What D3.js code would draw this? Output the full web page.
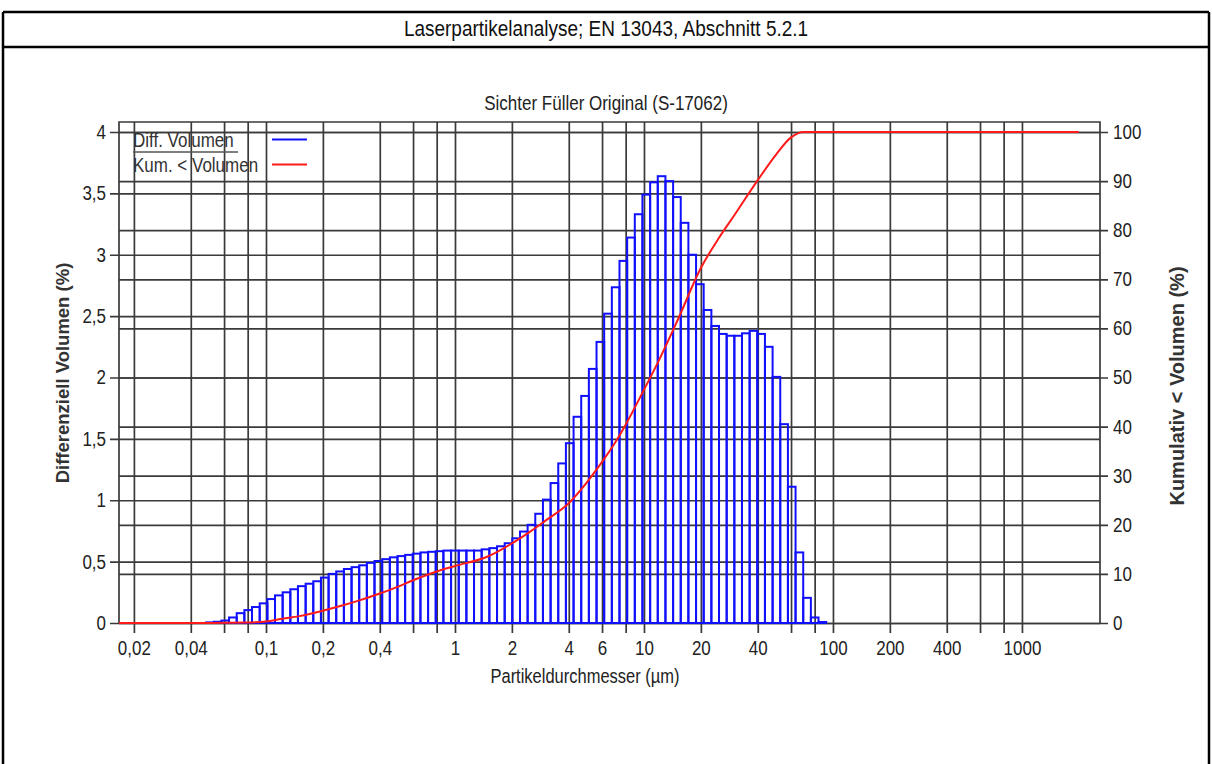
<!DOCTYPE html>
<html>
<head>
<meta charset="utf-8">
<script src="https://cdn.jsdelivr.net/npm/d3@7"></script>
<style>
  body { margin: 0; background: #fff; }
  svg text { font-family: "Liberation Sans", Arial, sans-serif; fill: #222; }
</style>
</head>
<body>
<div id="chart"></div>
<script>
// channel edges (µm) of the laser analyser
var binEdges = [0.04822, 0.05291, 0.05808, 0.06375, 0.06999, 0.07682, 0.08433, 0.09261, 0.1017, 0.1116,
  0.1225, 0.1345, 0.1476, 0.1621, 0.1779, 0.1953, 0.2144, 0.2353, 0.2583, 0.2836,
  0.3113, 0.3417, 0.3751, 0.4118, 0.4520, 0.4962, 0.5447, 0.5980, 0.6564, 0.7206,
  0.7910, 0.8683, 0.9534, 1.0466, 1.149, 1.261, 1.384, 1.520, 1.669, 1.832,
  2.011, 2.208, 2.423, 2.660, 2.920, 3.206, 3.519, 3.863, 4.241, 4.655,
  5.110, 5.610, 6.158, 6.760, 7.421, 8.147, 8.943, 9.816, 10.78, 11.83,
  12.99, 14.26, 15.65, 17.18, 18.86, 20.70, 22.73, 24.95, 27.39, 30.07,
  33.00, 36.23, 39.77, 43.66, 47.93, 52.61, 57.76, 63.40, 69.60, 76.40,
  83.87, 92.07];

// differential volume (%) per channel
var diffVolume = [0.005, 0.01, 0.02, 0.045, 0.08, 0.105, 0.13, 0.16, 0.195, 0.225,
  0.25, 0.275, 0.3, 0.32, 0.34, 0.37, 0.40, 0.42, 0.44, 0.455,
  0.47, 0.49, 0.505, 0.52, 0.535, 0.545, 0.555, 0.565, 0.575, 0.58,
  0.585, 0.59, 0.59, 0.59, 0.59, 0.59, 0.60, 0.61, 0.625, 0.65,
  0.69, 0.745, 0.80, 0.89, 1.005, 1.14, 1.30, 1.465, 1.68, 1.85,
  2.07, 2.29, 2.52, 2.735, 2.95, 3.14, 3.33, 3.49, 3.59, 3.64,
  3.60, 3.47, 3.26, 3.00, 2.76, 2.55, 2.42, 2.355, 2.34, 2.34,
  2.36, 2.38, 2.355, 2.25, 2.005, 1.62, 1.11, 0.575, 0.205, 0.045,
  0.008];

// cumulative < volume (%)
var cumSize = [0.0167, 0.05, 0.08, 0.1, 0.12, 0.15, 0.2, 0.25, 0.3, 0.4, 0.5, 0.6, 0.8, 1.0,
  1.5, 2.0, 2.5, 3.0, 4.0, 5.0, 6.0, 7.0, 8.0, 10, 12, 15, 20, 25, 30, 40, 50, 60, 70, 80, 2000];
var cumValue = [0, 0, 0.1, 0.3, 0.8, 1.4, 2.5, 3.5, 4.4, 6.0, 7.4, 8.7, 10.5, 11.6,
  13.6, 16.2, 18.6, 20.8, 24.4, 28.7, 32.8, 36.6, 40.4, 47.5, 53.5, 61.5, 72.3, 78.5, 83.0, 90.2, 95.4, 98.9, 100, 100, 100];

// ticks
var xGrid = [0.02, 0.04, 0.06, 0.08, 0.1, 0.2, 0.4, 0.6, 0.8, 1, 2, 4, 6, 8, 10, 20, 40, 60, 80,
  100, 200, 400, 600, 800, 1000];
var xTicks = [0.02, 0.04, 0.1, 0.2, 0.4, 1, 2, 4, 6, 10, 20, 40, 100, 200, 400, 1000];
var xTickLabels = ["0,02", "0,04", "0,1", "0,2", "0,4", "1", "2", "4", "6", "10", "20", "40", "100", "200", "400", "1000"];
var yLeftTicks = [0, 0.5, 1, 1.5, 2, 2.5, 3, 3.5, 4];
var yLeftLabels = ["0", "0,5", "1", "1,5", "2", "2,5", "3", "3,5", "4"];
var yRightTicks = [0, 10, 20, 30, 40, 50, 60, 70, 80, 90, 100];

var svgWidth = 1212, svgHeight = 764;
var plot = { left: 119, right: 1100, top: 122, bottom: 623 };
var gridColor = "#3a3a3a";
var stretch = 1.18; // the text in the source looks taller than wide

var svg = d3.select("#chart").append("svg")
  .attr("width", svgWidth)
  .attr("height", svgHeight);

// helper for stretched labels
function label(x, y, str, size, anchor) {
  return svg.append("text")
    .attr("transform", `translate(${x}, ${y}) scale(1, ${stretch})`)
    .attr("text-anchor", anchor || "middle")
    .style("font-size", size + "px")
    .text(str);
}

// outer table frame
var frame = svg.append("g").attr("stroke", "#000").attr("stroke-width", 2.5);
frame.append("line").attr("x1", 3).attr("x2", 1209).attr("y1", 12).attr("y2", 12);
frame.append("line").attr("x1", 3).attr("x2", 1209).attr("y1", 47).attr("y2", 47);
frame.append("line").attr("x1", 3).attr("x2", 3).attr("y1", 12).attr("y2", 764);
frame.append("line").attr("x1", 1209).attr("x2", 1209).attr("y1", 12).attr("y2", 764);

label(606, 36, "Laserpartikelanalyse; EN 13043, Abschnitt 5.2.1", 19).style("fill", "#111");

// scales
var xScale = d3.scaleLog().domain([0.01668, 2588]).range([plot.left, plot.right]);
var yLeft = d3.scaleLinear().domain([0, 4]).range([plot.bottom, 132]);
var yRight = d3.scaleLinear().domain([0, 100]).range([plot.bottom, 132]);

// grid lines via axes
function styleGrid(g) {
  g.select(".domain").remove();
  g.selectAll(".tick line").attr("stroke", gridColor).attr("stroke-width", 1.7);
  g.selectAll(".tick text").remove();
}

svg.append("g")
  .attr("transform", `translate(110, 0)`)
  .call(d3.axisLeft(yLeft).tickValues(yLeftTicks).tickSize(-(plot.right - 110)))
  .call(styleGrid);

svg.append("g")
  .attr("transform", `translate(1108, 0)`)
  .call(d3.axisRight(yRight).tickValues(yRightTicks).tickSize(-(1108 - plot.left)))
  .call(styleGrid);

svg.append("g")
  .attr("transform", `translate(0, 633)`)
  .call(d3.axisBottom(xScale).tickValues(xGrid).tickSize(-(633 - plot.top)))
  .call(styleGrid);

// plot frame
svg.append("path")
  .attr("d", `M${plot.left},${plot.bottom}V${plot.top}H${plot.right}V${plot.bottom}`)
  .attr("stroke", gridColor).attr("stroke-width", 1.7).attr("fill", "none");

// tick labels
function styleLabels(g) {
  g.select(".domain").remove();
  g.selectAll(".tick line").remove();
  g.selectAll(".tick text")
    .style("font-size", "17px")
    .style("fill", "#222")
    .attr("transform", `scale(1, ${stretch})`);
}

svg.append("g")
  .attr("transform", `translate(110, 0)`)
  .call(d3.axisLeft(yLeft).tickValues(yLeftTicks).tickSize(0).tickPadding(4)
    .tickFormat((d, i) => yLeftLabels[i]))
  .call(styleLabels);

svg.append("g")
  .attr("transform", `translate(1108, 0)`)
  .call(d3.axisRight(yRight).tickValues(yRightTicks).tickSize(0).tickPadding(5)
    .tickFormat(d => d))
  .call(styleLabels);

svg.append("g")
  .attr("transform", `translate(0, 633)`)
  .call(d3.axisBottom(xScale).tickValues(xTicks).tickSize(0).tickPadding(7)
    .tickFormat((d, i) => xTickLabels[i]))
  .call(styleLabels);

// bars
svg.append("g").selectAll("rect")
  .data(diffVolume)
  .enter()
  .append("rect")
  .attr("x", (d, i) => xScale(binEdges[i]))
  .attr("width", (d, i) => xScale(binEdges[i + 1]) - xScale(binEdges[i]))
  .attr("y", d => yLeft(d))
  .attr("height", d => yLeft(0) - yLeft(d))
  .attr("fill", "none")
  .attr("stroke", "#1010ff")
  .attr("stroke-width", 2);

// cumulative line
var cumLine = d3.line()
  .x((d, i) => xScale(cumSize[i]))
  .y(d => yRight(d))
  .curve(d3.curveMonotoneX);

svg.append("path")
  .datum(cumValue)
  .attr("d", cumLine)
  .attr("fill", "none")
  .attr("stroke", "#ff1a1a")
  .attr("stroke-width", 2);

// titles
label(606, 110, "Sichter Füller Original (S-17062)", 17);
label(585, 683, "Partikeldurchmesser (µm)", 16.5);

svg.append("text")
  .attr("transform", "translate(69, 373) rotate(-90)")
  .attr("text-anchor", "middle")
  .style("font-size", "18.5px")
  .style("font-weight", "bold")
  .style("fill", "#333")
  .text("Differenziell Volumen (%)");

svg.append("text")
  .attr("transform", "translate(1184, 386) rotate(-90)")
  .attr("text-anchor", "middle")
  .style("font-size", "20px")
  .style("font-weight", "bold")
  .style("fill", "#333")
  .text("Kumulativ < Volumen (%)");

// legend
label(133, 147, "Diff. Volumen", 17, "start").style("fill", "#333");
label(133, 172, "Kum. < Volumen", 17, "start").style("fill", "#333");
var legend = svg.append("g");
legend.append("line").attr("x1", 133).attr("x2", 238).attr("y1", 152).attr("y2", 152)
  .attr("stroke", "#555").attr("stroke-width", 1.5);
legend.append("line").attr("x1", 272).attr("x2", 307).attr("y1", 139.5).attr("y2", 139.5)
  .attr("stroke", "#1010ff").attr("stroke-width", 2);
legend.append("line").attr("x1", 272).attr("x2", 307).attr("y1", 164.5).attr("y2", 164.5)
  .attr("stroke", "#ff1a1a").attr("stroke-width", 2);
</script>
</body>
</html>
